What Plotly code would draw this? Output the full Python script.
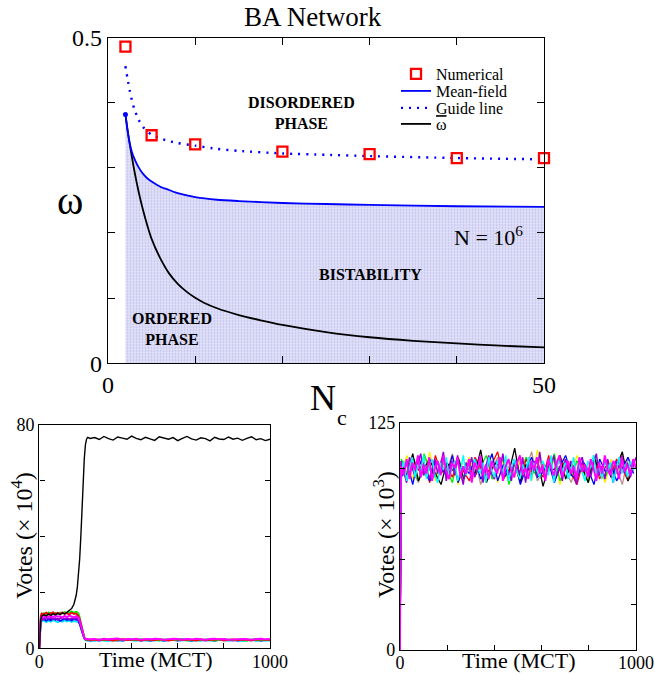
import plotly.graph_objects as go

W, H = 655, 675
FONT = "Liberation Serif, Times New Roman, serif"

# ---------------- Top panel data (BA network phase diagram) ----------------
nc_num = [2, 5, 10, 20, 30, 40, 50]
omega_num = [0.486, 0.350, 0.336, 0.325, 0.321, 0.315, 0.315]

nc_guide = [2, 2.25, 2.5, 2.75, 3, 3.5, 4, 4.5, 5, 6, 7, 8, 10, 12.5, 15, 20, 25, 30, 40, 50]
omega_guide = [0.456, 0.436, 0.418, 0.403, 0.391, 0.374, 0.363, 0.356, 0.351, 0.345,
               0.341, 0.338, 0.334, 0.329, 0.326, 0.322, 0.320, 0.318, 0.315, 0.313]

nc_mf = [2, 2.25, 2.5, 2.75, 3, 3.5, 4, 4.5, 5, 6, 7, 8, 10, 12.5, 15, 20, 25, 30, 40, 50]
omega_mf = [0.382, 0.356, 0.337, 0.324, 0.315, 0.301, 0.291, 0.284, 0.279, 0.271,
            0.266, 0.261, 0.255, 0.251, 0.249, 0.246, 0.2445, 0.243, 0.241, 0.240]

nc_bar = [2, 2.25, 2.5, 2.75, 3, 3.5, 4, 4.5, 5, 6, 7, 8, 9, 10, 11, 12.5, 15, 17.5, 20,
          25, 30, 35, 40, 45, 50]
omega_bar = [0.382, 0.358, 0.336, 0.316, 0.297, 0.264, 0.236, 0.212, 0.191, 0.161, 0.138,
             0.122, 0.110, 0.1005, 0.093, 0.0845, 0.074, 0.066, 0.059, 0.048, 0.040, 0.0345,
             0.0305, 0.027, 0.0243]

top_x_ticks = [0, 10, 20, 30, 40, 50]
top_x_text = ["0", "", "", "", "", "50"]
top_y_ticks = [0, 0.1, 0.2, 0.3, 0.4, 0.5]
top_y_text = ["0", "", "", "", "", "0.5"]

# ---------------- Bottom-left panel data (Votes x 10^4) ----------------
t_left = [0, 3, 6, 10, 20, 30, 40, 50, 60, 70, 80, 90, 100, 110, 120, 130, 140, 150,
          160, 165, 170, 175, 180, 185, 190, 195, 200, 205, 210, 220,
          240, 260, 280, 300, 320, 340, 360, 380, 400, 420, 440, 460, 480, 500,
          520, 540, 560, 580, 600, 620, 640, 660, 680, 700, 720, 740, 760, 780,
          800, 820, 840, 860, 880, 900, 920, 940, 960, 980, 1000]

black_l = [0, 6, 10, 11.5, 12, 11.6, 12.3, 11.8, 12.4, 12, 12.5, 12.1, 12.6, 12.3, 12.9, 13.4,
           14.2, 15.8, 19, 22, 26, 32, 40, 50, 60, 68, 73, 75, 75.6, 75.2,
           75.5, 74.8, 75.9, 75.1, 74.6, 75.7, 75.3, 74.9, 76.0, 75.2, 74.7, 75.6, 75.0,
           74.5, 75.8, 75.3, 74.9, 75.5, 74.4, 75.2, 75.9, 75.0, 74.6, 75.4, 75.1, 74.3,
           75.6, 75.0, 74.8, 75.7, 74.9, 75.3, 74.5, 75.2, 75.8, 74.7, 75.1, 74.4, 74.9]
red_l = [0, 8, 11.5, 12.5, 12.2, 12.8, 12.1, 12.6, 12.9, 12.3, 12.7, 12.2, 12.9, 12.4, 12.6,
         12.1, 12.8, 12.3, 12.5, 12.0, 11.5, 10.5, 8.8, 6.8, 5.0, 3.9, 3.3, 3.1, 3.0, 3.1,
         3.1, 2.9, 3.2, 3.0, 2.8, 3.1, 3.3, 2.9, 3.0, 3.2, 2.8, 3.1, 3.0, 2.9, 3.2, 3.1,
         2.8, 3.0, 3.3, 2.9, 3.1, 3.0, 2.8, 3.2, 2.9, 3.1, 3.0, 3.3, 2.8, 3.0, 3.2, 2.9,
         3.1, 3.0, 2.8, 3.2, 3.1, 2.9, 3.0]
green_l = [0, 7, 11, 12.0, 12.6, 12.2, 12.9, 12.4, 12.1, 12.7, 12.3, 12.8, 12.5, 13.0, 12.6,
           12.9, 13.2, 12.8, 13.1, 12.9, 12.4, 11.2, 9.2, 7.0, 5.1, 3.9, 3.3, 3.0, 3.1, 3.0,
           2.9, 3.2, 3.0, 3.1, 2.8, 3.0, 3.2, 2.9, 3.1, 3.0, 3.3, 2.9, 3.0, 3.1, 2.8, 3.2,
           3.0, 2.9, 3.1, 3.2, 2.8, 3.0, 3.1, 2.9, 3.2, 3.0, 2.8, 3.1, 3.0, 3.2, 2.9, 3.1,
           3.0, 2.8, 3.2, 3.0, 2.9, 3.1, 3.0]
blue_l = [0, 6, 9.5, 10.2, 10.6, 9.9, 10.4, 10.0, 10.7, 10.2, 10.5, 9.8, 10.3, 10.6, 10.1,
          10.4, 10.0, 10.5, 10.2, 10.3, 9.9, 9.0, 7.6, 6.0, 4.5, 3.6, 3.1, 2.9, 3.0, 2.8,
          3.0, 2.8, 3.1, 2.9, 3.0, 3.2, 2.8, 3.0, 2.9, 3.1, 2.8, 3.0, 3.2, 2.9, 3.0, 2.8,
          3.1, 3.0, 2.9, 3.2, 3.0, 2.8, 3.1, 2.9, 3.0, 3.1, 2.8, 3.0, 3.2, 2.9, 3.0, 2.8,
          3.1, 2.9, 3.0, 3.1, 2.8, 3.0, 2.9]
purple_l = [0, 6.5, 10, 10.8, 10.3, 11.0, 10.5, 10.9, 10.4, 10.8, 10.2, 10.7, 11.0, 10.5,
            10.9, 10.3, 10.8, 10.6, 10.9, 10.5, 10.1, 9.3, 7.8, 6.1, 4.6, 3.7, 3.2, 3.0, 3.1,
            2.9, 3.1, 3.0, 2.9, 3.2, 3.0, 2.8, 3.1, 3.0, 3.2, 2.9, 3.0, 3.1, 2.8, 3.0, 3.2,
            2.9, 3.1, 3.0, 2.8, 3.1, 3.2, 2.9, 3.0, 3.1, 2.8, 3.0, 3.2, 2.9, 3.1, 3.0, 2.8,
            3.1, 3.0, 3.2, 2.9, 3.0, 3.1, 2.9, 3.0]
cyan_l = [0, 6, 9, 9.6, 10.0, 9.4, 9.9, 9.5, 10.1, 9.7, 9.3, 9.8, 9.5, 10.0, 9.6, 9.9, 9.4,
          9.8, 9.5, 9.7, 9.3, 8.6, 7.2, 5.7, 4.3, 3.4, 2.9, 2.8, 2.7, 2.8,
          2.7, 2.9, 2.8, 2.6, 2.9, 2.8, 2.7, 3.0, 2.8, 2.7, 2.9, 2.8, 2.6, 2.8, 2.9, 2.7,
          2.8, 3.0, 2.7, 2.8, 2.9, 2.6, 2.8, 2.7, 2.9, 2.8, 2.7, 3.0, 2.8, 2.7, 2.9, 2.8,
          2.6, 2.8, 2.9, 2.7, 2.8, 2.9, 2.8]
magenta_l = [0, 7, 10.5, 11.4, 11.0, 11.7, 11.2, 11.6, 11.1, 11.8, 11.3, 11.5, 11.0, 11.6,
             11.2, 11.7, 11.4, 11.1, 11.5, 11.3, 11.0, 10.0, 8.3, 6.4, 4.8, 3.8, 3.3, 3.2,
             3.3, 3.2, 3.3, 3.1, 3.4, 3.2, 3.3, 3.5, 3.1, 3.3, 3.2, 3.4, 3.1, 3.3, 3.2, 3.4,
             3.3, 3.1, 3.2, 3.4, 3.3, 3.1, 3.3, 3.2, 3.4, 3.2, 3.1, 3.3, 3.4, 3.2, 3.3, 3.1,
             3.2, 3.4, 3.3, 3.2, 3.1, 3.3, 3.4, 3.2, 3.3]

left_x_ticks = [0, 200, 400, 600, 800, 1000]
left_x_text = ["0", "", "", "", "", "1000"]
left_y_ticks = [0, 20, 40, 60, 80]
left_y_text = ["0", "", "", "", "80"]

# ---------------- Bottom-right panel data (Votes x 10^3) ----------------
t_right_fine = [0] + list(range(4, 1001, 12))
t_right_coarse = [0] + list(range(6, 1001, 24))

magenta_r = [0, 101, 96, 105, 94, 103, 99, 107, 95, 102, 97, 106, 93, 100, 104, 96, 107, 98,
             94, 103, 100, 106, 95, 101, 97, 105, 92, 103, 99, 107, 96, 102, 94, 104, 100, 97,
             106, 93, 101, 105, 98, 95, 103, 107, 96, 100, 94, 104, 99, 106, 97, 102, 93, 105,
             100, 96, 103, 107, 95, 99, 104, 97, 101, 94, 106, 98, 102, 95, 105, 100, 93, 103,
             97, 107, 99, 96, 104, 101, 94, 106, 98, 102, 96, 105, 100]
cyan_r = [0, 97, 104, 93, 100, 106, 95, 102, 98, 107, 94, 101, 105, 96, 92, 103, 99, 106, 95,
          100, 104, 93, 98, 107, 96, 102, 94, 105, 100, 97, 103, 92, 106, 99, 95, 104, 101, 96,
          107, 93, 100, 105, 98, 94, 102, 97, 106, 93, 103, 99, 95, 104, 100, 96, 107, 92, 101,
          105, 97, 103, 94, 99, 106, 95, 102, 98, 93, 104, 100, 107, 96, 101, 94, 105, 98, 103,
          92, 99, 106, 97, 102, 95, 104, 99, 101]
purple_r = [0, 104, 98, 92, 106, 100, 95, 103, 108, 96, 101, 94, 99, 105, 97, 102, 109, 93, 100,
            104, 96, 107, 98, 91, 103, 100, 106, 95, 99, 104, 92, 101, 107, 97, 94, 103, 100, 108,
            96, 99, 93, 105, 101, 97, 106, 92, 102, 99, 104, 95, 109, 98, 94, 103, 100, 107, 96,
            101, 93, 105, 99, 104, 97, 91, 102, 106, 98, 100, 95, 103, 108, 96, 101, 94, 105, 99,
            92, 104, 100, 107, 97, 103, 95, 101, 106]
blue_r = [0, 95, 103, 91, 106, 98, 93, 104, 100, 96, 107, 92, 101, 97, 105, 94, 99, 108, 93, 102,
          96, 104, 91, 100, 106, 95, 98, 103, 92, 101, 107, 96, 94, 104, 99, 91, 105, 98, 102, 93,
          100, 106, 97]
black_r = [0, 102, 96, 108, 93, 100, 105, 97, 91, 103, 99, 106, 94, 101, 97, 110, 92, 100, 104,
           95, 98, 111, 93, 102, 96, 105, 90, 101, 99, 107, 94, 103, 97, 100, 92, 106, 98, 104,
           95, 101, 109, 93, 100]
yellow_r = [0, 99, 107, 94, 101, 96, 109, 93, 103, 98, 105, 91, 100, 106, 95, 102, 97, 108, 92,
            104, 99, 95, 106, 101, 93, 110, 97, 100, 104, 91, 102, 96, 107, 99, 94, 103, 100, 92,
            105, 97, 108, 95, 101]
green_r = [0, 105, 97, 101, 93, 108, 99, 95, 104, 100, 92, 106, 98, 103, 96, 101, 107, 94, 99,
           105, 91, 102, 97, 106, 100, 95, 103, 98, 108, 93, 101, 96, 104, 99, 92, 107, 100, 95,
           103, 97, 106, 94, 102]
red_r = [0, 100, 94, 106, 99, 103, 92, 107, 97, 101, 95, 104, 98, 93, 106, 100, 96, 103, 109, 94,
         99, 102, 92, 105, 98, 101, 95, 107, 93, 100, 104, 97, 91, 103, 99, 106, 94, 101, 96, 105,
         100, 93, 104]
brown_r = [0, 96, 104, 99, 92, 106, 101, 95, 103, 98, 108, 93, 100, 97, 105, 91, 102, 99, 106,
           94, 101, 96, 104, 100, 109, 93, 98, 103, 95, 107, 99, 92, 104, 101, 96, 105, 98, 94,
           102, 100, 91, 106, 99]

right_x_ticks = [0, 200, 400, 600, 800, 1000]
right_x_text = ["0", "", "", "", "", "1000"]
right_y_ticks = [0, 25, 50, 75, 100, 125]
right_y_text = ["0", "", "", "", "", "125"]


def px(x):
    return x / W


def py(y):
    return 1 - y / H


fig = go.Figure()

# ---- top panel ----
fig.add_trace(go.Scatter(
    x=nc_mf, y=omega_mf, mode="lines", line=dict(width=0, shape="spline", smoothing=0.6),
    fill="tozeroy", fillcolor="rgba(0,0,0,0)",
    fillpattern=dict(shape=".", bgcolor="#e4e4f8", fgcolor="#9c9ce6", size=3, solidity=0.4),
    showlegend=False, hoverinfo="skip", xaxis="x", yaxis="y"))
fig.add_trace(go.Scatter(
    x=nc_guide, y=omega_guide, mode="lines", name="Guide line",
    line=dict(color="#0000ff", width=2.4, dash="2px,6px", shape="spline", smoothing=0.6),
    legend="legend3", xaxis="x", yaxis="y"))
fig.add_trace(go.Scatter(
    x=nc_bar, y=omega_bar, mode="lines",
    name='<span style="text-decoration:overline">ω</span>',
    line=dict(color="black", width=1.8, shape="spline", smoothing=0.6),
    legend="legend4", xaxis="x", yaxis="y"))
fig.add_trace(go.Scatter(
    x=nc_mf, y=omega_mf, mode="lines", name="Mean-field",
    line=dict(color="#0000ff", width=1.8, shape="spline", smoothing=0.6),
    legend="legend2", xaxis="x", yaxis="y"))
fig.add_trace(go.Scatter(
    x=nc_mf[:1], y=omega_mf[:1], mode="markers", marker=dict(color="#0000ff", size=5),
    showlegend=False, hoverinfo="skip", xaxis="x", yaxis="y"))
fig.add_trace(go.Scatter(
    x=nc_num, y=omega_num, mode="markers", name="Numerical",
    marker=dict(symbol="square-open", size=10, color="#ff0000", line=dict(width=2.3, color="#ff0000")),
    legend="legend", xaxis="x", yaxis="y", cliponaxis=False))

# ---- bottom left ----
for vals, col, w in [(cyan_l, "#00e5ff", 1.8), (blue_l, "#0000ff", 1.8), (purple_l, "#9400d3", 1.8),
                     (green_l, "#00ee00", 1.8), (red_l, "#ff0000", 1.8),
                     (magenta_l, "#ff00ff", 2.0), (black_l, "black", 1.4)]:
    fig.add_trace(go.Scatter(x=t_left, y=vals, mode="lines", line=dict(color=col, width=w),
                             showlegend=False, hoverinfo="skip", xaxis="x2", yaxis="y2"))

# ---- bottom right ----
for tt, vals, col, w in [(t_right_coarse, brown_r, "#b89090", 1.3),
                         (t_right_coarse, yellow_r, "#ffee00", 1.3),
                         (t_right_coarse, green_r, "#00ee00", 1.3),
                         (t_right_coarse, red_r, "#ff0000", 1.3),
                         (t_right_coarse, black_r, "black", 1.3),
                         (t_right_coarse, blue_r, "#0000ff", 1.3),
                         (t_right_fine, purple_r, "#9400d3", 1.5),
                         (t_right_fine, cyan_r, "#00ffff", 1.5),
                         (t_right_fine, magenta_r, "#ff00ff", 1.9)]:
    fig.add_trace(go.Scatter(x=tt, y=vals, mode="lines", line=dict(color=col, width=w),
                             showlegend=False, hoverinfo="skip", xaxis="x3", yaxis="y3"))


def axis(domain, rng, tv, tt, anchor, mirror, size, ticklen=7, standoff=0):
    return dict(domain=domain, range=rng, tickvals=tv, ticktext=tt, anchor=anchor,
                ticks="inside", ticklen=ticklen, tickwidth=1.2, tickcolor="black",
                showline=True, linecolor="black", linewidth=1.4, mirror=mirror,
                showgrid=False, zeroline=False, automargin=False,
                ticklabelstandoff=standoff,
                tickfont=dict(family=FONT, size=size, color="black"))


def leg(y):
    return dict(x=px(396), y=py(y), xanchor="left", yanchor="middle",
                bgcolor="rgba(0,0,0,0)", borderwidth=0,
                font=dict(family=FONT, size=16, color="black"))


fig.update_layout(
    width=W, height=H, margin=dict(l=0, r=0, t=0, b=0, pad=0, autoexpand=False),
    paper_bgcolor="white", plot_bgcolor="white",
    xaxis=axis([px(108), px(544)], [0, 50], top_x_ticks, top_x_text, "y", "ticks", 24),
    yaxis=axis([py(363.3), py(37.5)], [0, 0.5], top_y_ticks, top_y_text, "x", "ticks", 24),
    xaxis2=axis([px(39.3), px(270)], [0, 1000], left_x_ticks, left_x_text, "y2", True, 18, 5, -3),
    yaxis2=axis([py(648.3), py(425)], [0, 80], left_y_ticks, left_y_text, "x2", "ticks", 18, 5),
    xaxis3=axis([px(400), px(636)], [0, 1000], right_x_ticks, right_x_text, "y3", True, 18, 5, -4),
    yaxis3=axis([py(650), py(422.7)], [0, 125], right_y_ticks, right_y_text, "x3", "ticks", 18, 5),
    legend=leg(74), legend2=leg(91), legend3=leg(108), legend4=leg(124),
    showlegend=True,
)

ann = []


def note(text, x, y, size, bold=False, angle=0):
    ann.append(dict(text=f"<b>{text}</b>" if bold else text, x=px(x), y=py(y),
                    xref="paper", yref="paper", showarrow=False, textangle=angle,
                    xanchor="center", yanchor="middle",
                    font=dict(family=FONT, size=size, color="black")))


note("BA Network", 313, 17, 27)
note("ω", 70, 200, 40)
note("N", 323, 398, 36)
note("c", 342, 417, 22)
note("DISORDERED<br>PHASE", 301, 113, 16, bold=True)
note("BISTABILITY", 370, 274, 16, bold=True)
note("ORDERED<br>PHASE", 172, 329, 16, bold=True)
note("N = 10<sup>6</sup>", 489, 236, 22)
note("Time (MCT)", 155, 659, 22)
note("Time (MCT)", 518, 660, 22)
note("Votes (× 10<sup>4</sup>)", 22, 536, 24, angle=-90)
note("Votes (× 10<sup>3</sup>)", 384, 535, 24, angle=-90)
fig.update_layout(annotations=ann)

fig.write_html("out.html", config={"displayModeBar": False},
               post_script="document.body.style.margin='0px';document.body.style.overflow='hidden';")
